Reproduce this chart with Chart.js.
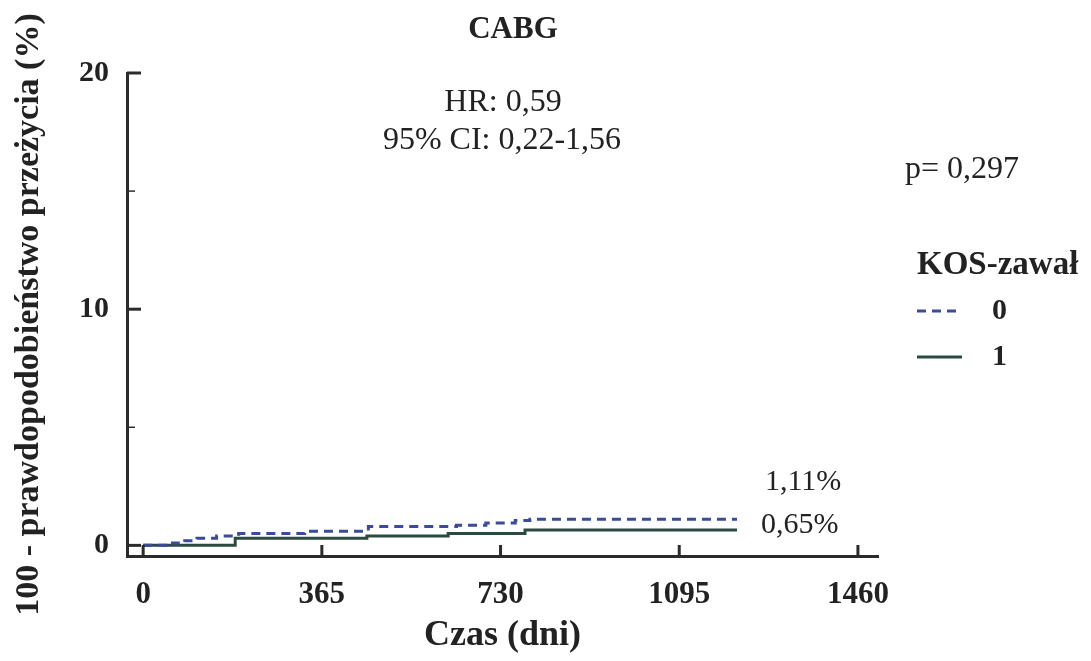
<!DOCTYPE html>
<html>
<head>
<meta charset="utf-8">
<script src="https://cdn.jsdelivr.net/npm/chart.js@4"></script>
<style>
  html, body { margin: 0; padding: 0; background: #fff; }
  #wrap { width: 1091px; height: 661px; }
</style>
</head>
<body>
<div id="wrap"><canvas id="km-chart" width="1091" height="661"></canvas></div>
<script>
// Kaplan-Meier style cumulative event curves (100 - survival %)
const groupLabels = ["0", "1"];
const days0 = [0, 60, 85, 110, 150, 195, 330, 460, 640, 700, 760, 790, 1213];
const risk0 = [0, 0.1, 0.2, 0.3, 0.4, 0.5, 0.6, 0.8, 0.85, 0.95, 1.05, 1.11, 1.11];
const days1 = [0, 188, 457, 623, 780, 1213];
const risk1 = [0, 0.3, 0.4, 0.5, 0.65, 0.65];
const xTicks = [0, 365, 730, 1095, 1460];
const yTicks = [0, 5, 10, 15, 20];
const endLabels = ["1,11%", "0,65%"];

const serif = "'Liberation Serif', 'Times New Roman', serif";
const axisColor = "#2b2b2b";

const toPoints = (xs, ys) => xs.map((x, i) => ({ x: x, y: ys[i] }));

// extra bits: inward ticks, annotations, custom legend
const extras = {
    id: 'extras',
    afterDraw(chart) {
        const ctx = chart.ctx;
        const xs = chart.scales.x, ys = chart.scales.y;
        const area = chart.chartArea;
        ctx.save();
        ctx.strokeStyle = axisColor;
        ctx.lineWidth = 3;
        xTicks.forEach(v => {
            const px = xs.getPixelForValue(v);
            ctx.beginPath();
            ctx.moveTo(px, area.bottom);
            ctx.lineTo(px, area.bottom - 11);
            ctx.stroke();
        });
        yTicks.forEach(v => {
            const py = ys.getPixelForValue(v);
            const major = v % 10 === 0;
            ctx.lineWidth = major ? 3 : 1.5;
            ctx.beginPath();
            ctx.moveTo(area.left, py);
            ctx.lineTo(area.left + (major ? 14 : 8), py);
            ctx.stroke();
        });

        ctx.fillStyle = "#222";
        ctx.textAlign = 'center';
        ctx.textBaseline = 'middle';
        ctx.font = "bold 31px " + serif;
        ctx.fillText("CABG", 513, 30);
        ctx.font = "32px " + serif;
        ctx.fillText("HR: 0,59", 503, 103);
        ctx.fillText("95% CI: 0,22-1,56", 502, 141);

        ctx.textAlign = 'left';
        ctx.font = "30px " + serif;
        const lx = xs.getPixelForValue(1270);
        ctx.fillText(endLabels[0], lx, 482);
        ctx.fillText(endLabels[1], lx - 4, 525);

        ctx.font = "32px " + serif;
        ctx.fillText("p= 0,297", 905, 170);
        ctx.font = "bold 33px " + serif;
        ctx.fillText("KOS-zawał", 917, 265);

        ctx.font = "bold 30px " + serif;
        chart.data.datasets.forEach((ds, i) => {
            const y = 311 + i * 46;
            ctx.strokeStyle = ds.borderColor;
            ctx.lineWidth = 3;
            ctx.setLineDash(ds.borderDash || []);
            ctx.beginPath();
            ctx.moveTo(917, y);
            ctx.lineTo(962, y);
            ctx.stroke();
            ctx.setLineDash([]);
            ctx.fillStyle = "#222";
            ctx.fillText(ds.label, 992, y);
        });
        ctx.restore();
    }
};

new Chart(document.getElementById("km-chart"), {
    type: 'line',
    data: {
        datasets: [
            {
                label: groupLabels[0],
                data: toPoints(days0, risk0),
                stepped: 'before',
                borderColor: "#3a4a9c",
                borderWidth: 3,
                borderDash: [9, 6],
                pointRadius: 0,
                fill: false
            }, {
                label: groupLabels[1],
                data: toPoints(days1, risk1),
                stepped: 'before',
                borderColor: "#2b4a42",
                borderWidth: 3,
                pointRadius: 0,
                fill: false
            }
        ]
    },
    options: {
        responsive: false,
        animation: false,
        layout: { padding: { top: 73, right: 213, left: 0, bottom: 0 } },
        plugins: {
            legend: { display: false },
            tooltip: { enabled: false }
        },
        scales: {
            x: {
                type: 'linear',
                min: -33,
                max: 1501,
                afterBuildTicks: s => { s.ticks = xTicks.map(v => ({ value: v })); },
                afterFit: s => { s.height = 105; },
                grid: { display: false, drawTicks: false },
                border: { display: true, color: axisColor, width: 3 },
                ticks: {
                    padding: 20,
                    color: "#222",
                    font: { family: serif, size: 31, weight: 'bold' },
                    callback: v => String(v)
                },
                title: {
                    display: true,
                    text: "Czas (dni)",
                    color: "#222",
                    padding: { top: 2 },
                    font: { family: serif, size: 36, weight: 'bold' }
                }
            },
            y: {
                min: -0.45,
                max: 20,
                afterBuildTicks: s => { s.ticks = yTicks.map(v => ({ value: v })); },
                afterFit: s => { s.width = 127; },
                grid: { display: false, drawTicks: false },
                border: { display: true, color: axisColor, width: 3 },
                ticks: {
                    padding: 18,
                    color: "#222",
                    font: { family: serif, size: 30, weight: 'bold' },
                    callback: v => (v % 10 === 0 ? String(v) : '')
                },
                title: {
                    display: true,
                    text: "100 - prawdopodobieństwo przeżycia (%)",
                    color: "#222",
                    padding: { top: 9, bottom: 0 },
                    font: { family: serif, size: 34, weight: 'bold' }
                }
            }
        }
    },
    plugins: [extras]
});
</script>
</body>
</html>
